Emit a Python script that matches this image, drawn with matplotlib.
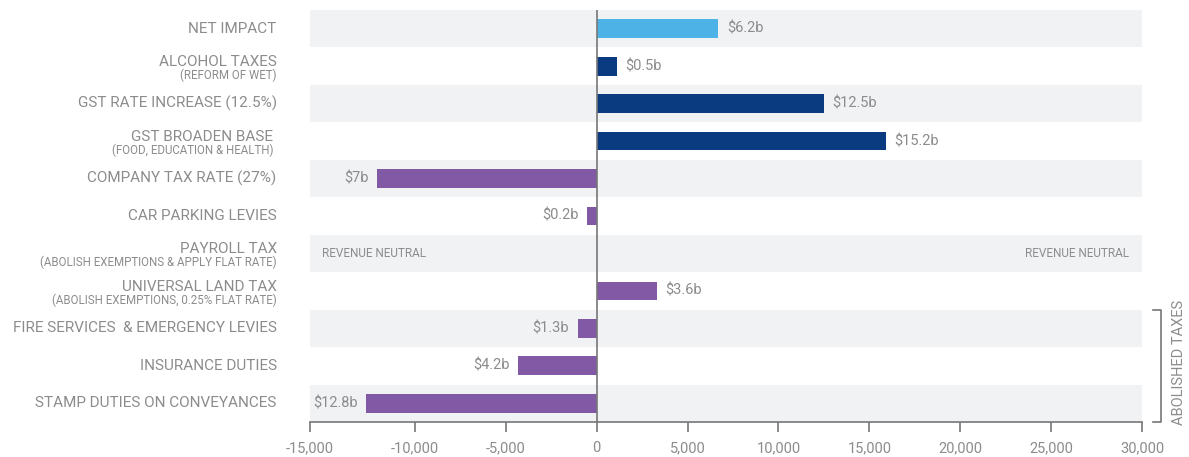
import matplotlib
matplotlib.use("Agg")
import matplotlib.pyplot as plt
import matplotlib.transforms as mtransforms

plt.rcParams['font.family'] = ['Roboto', 'DejaVu Sans']

# Data
categories = ["NET IMPACT", "ALCOHOL TAXES", "GST RATE INCREASE (12.5%)", "GST BROADEN BASE ",
              "COMPANY TAX RATE (27%)", "CAR PARKING LEVIES", "PAYROLL TAX", "UNIVERSAL LAND TAX",
              "FIRE SERVICES  & EMERGENCY LEVIES", "INSURANCE DUTIES", "STAMP DUTIES ON CONVEYANCES"]
subtitles = ["", "(REFORM OF WET)", "", "(FOOD, EDUCATION & HEALTH) ", "", "",
             "(ABOLISH EXEMPTIONS & APPLY FLAT RATE)", "(ABOLISH EXEMPTIONS, 0.25% FLAT RATE)", "", "", ""]
values = [6700, 1100, 12500, 15900, -12100, -550, 0, 3300, -1050, -4350, -12700]
value_labels = ["$6.2b", "$0.5b", "$12.5b", "$15.2b", "$7b", "$0.2b", "", "$3.6b", "$1.3b", "$4.2b", "$12.8b"]
groups = ["net", "gst", "gst", "gst", "other", "other", "other", "other", "other", "other", "other"]

tick_values = [-15770, -10000, -5000, 0, 5000, 10000, 15000, 20000, 25000, 30000]
tick_labels = ["-15,000", "-10,000", "-5,000", "0", "5,000", "10,000", "15,000", "20,000", "25,000", "30,000"]

colors = {"net": "#4db3e6", "gst": "#0a3a80", "other": "#8159a5"}
text_grey = "#8c8c8c"
band_grey = "#f1f2f4"

fig = plt.figure(figsize=(11.89, 4.57), dpi=100)
ax = fig.add_axes([310 / 1189, 35 / 457, 832 / 1189, 412 / 457])

n = len(categories)
ypos = list(range(n))

# alternating background bands
for i in ypos:
    if i % 2 == 0:
        ax.axhspan(i - 0.5, i + 0.5, color=band_grey, zorder=0, lw=0)

bar_colors = [colors[g] for g in groups]
ax.barh(ypos, values, height=0.5, color=bar_colors, zorder=2)

ax.set_xlim(tick_values[0], tick_values[-1])
ax.set_ylim(n - 0.5, -0.5)

# value labels next to the bars
for y, v, lab in zip(ypos, values, value_labels):
    if not lab:
        continue
    if v >= 0:
        ax.annotate(lab, (v, y), xytext=(6, 0), textcoords="offset points",
                    ha="left", va="center", fontsize=10.5, color=text_grey)
    else:
        ax.annotate(lab, (v, y), xytext=(-6, 0), textcoords="offset points",
                    ha="right", va="center", fontsize=10.5, color=text_grey)

# revenue neutral notes on payroll row
payroll = categories.index("PAYROLL TAX")
blend = mtransforms.blended_transform_factory(ax.transAxes, ax.transData)
ax.text(0.015, payroll, "REVENUE NEUTRAL", transform=blend, ha="left", va="center",
        fontsize=8.5, color=text_grey)
ax.text(0.984, payroll, "REVENUE NEUTRAL", transform=blend, ha="right", va="center",
        fontsize=8.5, color=text_grey)

# category labels (main + small subtitle)
for y, cat, sub in zip(ypos, categories, subtitles):
    if sub:
        ax.annotate(cat, (0, y), xycoords=blend, xytext=(-24, 3), textcoords="offset points",
                    ha="right", va="center", fontsize=11, color=text_grey)
        ax.annotate(sub, (0, y), xycoords=blend, xytext=(-24, -6.5), textcoords="offset points",
                    ha="right", va="center", fontsize=8.3, color=text_grey)
    else:
        ax.annotate(cat, (0, y), xycoords=blend, xytext=(-24, 0), textcoords="offset points",
                    ha="right", va="center", fontsize=11, color=text_grey)

# zero line
ax.axvline(0, color="#777777", lw=1.2, zorder=3)

# axes styling
for side in ["top", "right", "left"]:
    ax.spines[side].set_visible(False)
ax.spines["bottom"].set_color("#777777")
ax.spines["bottom"].set_linewidth(1.2)
ax.set_yticks([])
ax.set_xticks(tick_values)
ax.set_xticklabels(tick_labels)
ax.tick_params(axis="x", direction="out", length=7, width=1.2, color="#777777",
               labelcolor=text_grey, labelsize=10.5, pad=7)

# bracket for abolished taxes
bx, bx_in = 1.0228, 1.0132
top, bottom = 7.5, 10.5
ax.plot([bx_in, bx, bx, bx_in], [top, top, bottom, bottom], transform=blend,
        color="#777777", lw=1.2, clip_on=False)
ax.text(1.045, (top + bottom) / 2 - 0.1, "ABOLISHED TAXES", transform=blend, rotation=90,
        ha="center", va="center", fontsize=10.5, color=text_grey)

fig.savefig("out.png", dpi=100)
